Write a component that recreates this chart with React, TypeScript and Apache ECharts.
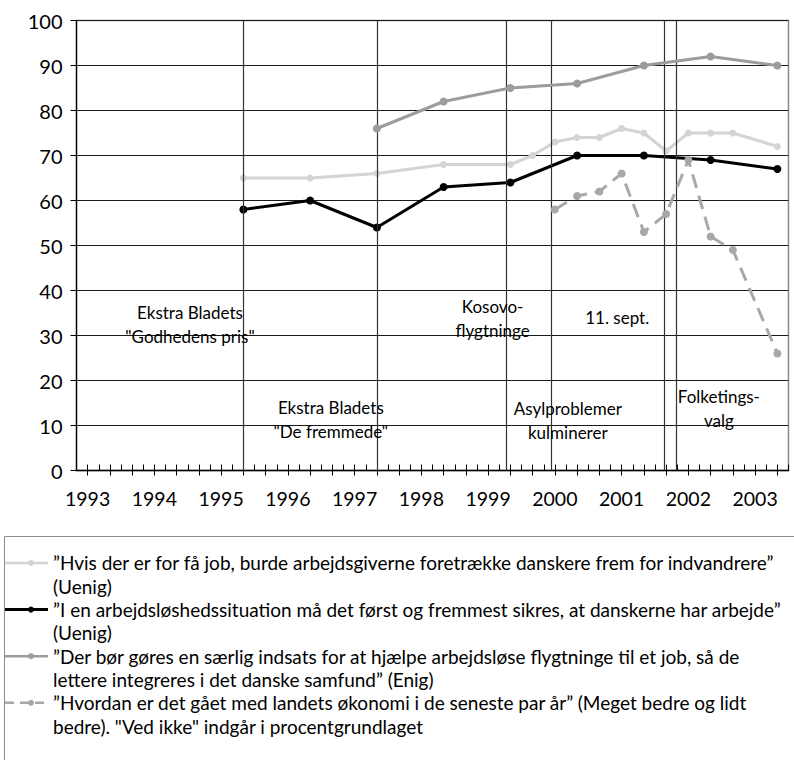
import React, { useEffect, useRef } from 'react';
import * as echarts from 'echarts';

// ---------- data ----------
const yearLabels = ['1993', '1994', '1995', '1996', '1997', '1998', '1999', '2000', '2001', '2002', '2003'];
const slotCount = 32; // survey slots on the x axis, three per year
const slotsPerYear = 3;

const seriesNames = [
  '”Hvis der er for få job, burde arbejdsgiverne foretrække danskere frem for indvandrere”\n(Uenig)',
  '”I en arbejdsløshedssituation må det først og fremmest sikres, at danskerne har arbejde”\n(Uenig)',
  '”Der bør gøres en særlig indsats for at hjælpe arbejdsløse flygtninge til et job, så de\nlettere integreres i det danske samfund” (Enig)',
  '”Hvordan er det gået med landets økonomi i de seneste par år” (Meget bedre og lidt\nbedre). "Ved ikke" indgår i procentgrundlaget',
];

const N = null;
const jobPreference = [N, N, N, N, N, N, N, 65, N, N, 65, N, N, 66, N, N, 68, N, N, 68, 70, 73, 74, 74, 76, 75, 71, 75, 75, 75, N, 72];
const danesFirst = [N, N, N, N, N, N, N, 58, N, N, 60, N, N, 54, N, N, 63, N, N, 64, N, N, 70, N, N, 70, N, N, 69, N, N, 67];
const refugeeEffort = [N, N, N, N, N, N, N, N, N, N, N, N, N, 76, N, N, 82, N, N, 85, N, N, 86, N, N, 90, N, N, 92, N, N, 90];
const economy = [N, N, N, N, N, N, N, N, N, N, N, N, N, N, N, N, N, N, N, N, N, 58, 61, 62, 66, 53, 57, 69, 52, 49, N, 26];

// event lines (x position in slot units)
const eventPositions = [7, 13, 18.8, 20.82, 25.9, 26.47];
// event annotations
const annotationTexts = [
  'Ekstra Bladets\n"Godhedens pris"',
  'Ekstra Bladets\n"De fremmede"',
  'Kosovo-\nflygtninge',
  '11. sept.',
  'Asylproblemer\nkulminerer',
  'Folketings-\nvalg',
];
const annotationX = [4.6, 10.93, 18.2, 23.8, 21.58, 28.37];
const annotationY = [32.5, 11.4, 33.7, 33.9, 11.2, 13.7];

const yTicks = { min: 0, max: 100, interval: 10 };

// ---------- styles ----------
const FONT = 'Lato';
const seriesStyles = [
  { color: '#d4d4d4', width: 3, type: 'solid' as const, size: 7 },
  { color: '#000000', width: 3, type: 'solid' as const, size: 8 },
  { color: '#9c9c9c', width: 3, type: 'solid' as const, size: 8 },
  { color: '#a8a8a8', width: 3, type: [14, 8] as any, size: 8 },
];

const toPairs = (arr: (number | null)[]) =>
  arr.map((v, i) => (v === null ? null : [i, v])).filter((p) => p !== null) as number[][];

export default function App() {
  const ref = useRef<HTMLDivElement>(null);

  useEffect(() => {
    if (!ref.current) return;
    const chart = echarts.init(ref.current, undefined, { renderer: 'svg' });

    const categories: string[] = [];
    for (let i = 0; i < slotCount; i++) categories.push('');
    yearLabels.forEach((y, k) => {
      categories[k * slotsPerYear] = y;
    });

    const allData = [jobPreference, danesFirst, refugeeEffort, economy];

    const lineSeries = allData.map((arr, i) => ({
      type: 'line',
      name: seriesNames[i],
      xAxisIndex: 0,
      yAxisIndex: 0,
      data: toPairs(arr),
      symbol: 'circle',
      symbolSize: seriesStyles[i].size,
      showSymbol: true,
      z: 3 + i,
      lineStyle: { color: seriesStyles[i].color, width: seriesStyles[i].width, type: seriesStyles[i].type },
      itemStyle: { color: seriesStyles[i].color },
      silent: true,
    }));

    // legend drawn as graphic elements
    const legendTop = 563;
    const itemStep = 46.6;
    const lineH = 23.4;
    const legendGraphics: any[] = [
      {
        type: 'rect',
        shape: { x: 4.5, y: 536.5, width: 900, height: 400 },
        style: { fill: 'none', stroke: '#8a8a8a', lineWidth: 1 },
        silent: true,
      },
    ];
    seriesNames.forEach((name, i) => {
      const cy = legendTop + i * itemStep;
      const s = seriesStyles[i];
      legendGraphics.push({
        type: 'line',
        shape: { x1: 5, y1: cy, x2: 48, y2: cy },
        style: { stroke: s.color, lineWidth: i === 1 ? 3 : 2.5, lineDash: i === 3 ? [9, 6] : null },
        silent: true,
      });
      legendGraphics.push({
        type: 'circle',
        shape: { cx: 31, cy, r: 3 },
        style: { fill: s.color },
        silent: true,
      });
      legendGraphics.push({
        type: 'text',
        x: 53,
        y: cy - lineH / 2,
        style: {
          text: name,
          fill: '#000',
          fontSize: 19,
          fontFamily: FONT,
          lineHeight: lineH,
          verticalAlign: 'top',
          align: 'left',
        },
        silent: true,
      });
    });

    chart.setOption({
      animation: false,
      textStyle: { fontFamily: FONT },
      grid: {
        left: 76.5,
        right: 5.5,
        top: 20.5,
        bottom: 289.5,
        show: true,
        borderColor: '#8a8a8a',
        borderWidth: 1.5,
        backgroundColor: 'transparent',
        containLabel: false,
      },
      xAxis: [
        {
          type: 'value',
          min: -0.5,
          max: 31.5,
          interval: 0.5,
          position: 'bottom',
          axisLine: { show: true, onZero: false, lineStyle: { color: '#000', width: 1.3 } },
          axisTick: { show: true, inside: true, length: 6, lineStyle: { color: '#000', width: 1 } },
          axisLabel: { show: false },
          splitLine: { show: false },
        },
        {
          type: 'category',
          data: categories,
          boundaryGap: true,
          position: 'bottom',
          axisLine: { show: false, onZero: false },
          axisTick: { show: true, alignWithLabel: true, interval: 0, inside: false, length: 5, lineStyle: { color: '#000', width: 1 } },
          axisLabel: { show: true, interval: 0, fontSize: 19.5, color: '#000', margin: 18, fontFamily: FONT },
          splitLine: { show: false },
        },
      ],
      yAxis: {
        type: 'value',
        min: yTicks.min,
        max: yTicks.max,
        interval: yTicks.interval,
        axisLine: { show: true, onZero: false, lineStyle: { color: '#000', width: 1.3 } },
        axisTick: { show: true, inside: false, length: 6, lineStyle: { color: '#000', width: 1 } },
        axisLabel: { fontSize: 20, color: '#000', margin: 14, fontFamily: FONT },
        splitLine: { show: true, lineStyle: { color: '#1a1a1a', width: 1 } },
      },
      series: [
        {
          type: 'line',
          name: 'events',
          xAxisIndex: 0,
          yAxisIndex: 0,
          data: [],
          z: 1,
          silent: true,
          markLine: {
            silent: true,
            symbol: ['none', 'none'],
            label: { show: false },
            lineStyle: { color: '#333', width: 1.2, type: 'solid' },
            data: eventPositions.map((x) => ({ xAxis: x })),
          },
          markPoint: {
            silent: true,
            symbol: 'rect',
            symbolSize: 1,
            itemStyle: { color: 'rgba(0,0,0,0)' },
            label: {
              show: true,
              position: 'inside',
              color: '#000',
              fontSize: 17,
              lineHeight: 24,
              fontFamily: FONT,
              align: 'center',
            },
            data: annotationTexts.map((t, i) => ({
              coord: [annotationX[i], annotationY[i]],
              value: t,
              label: { formatter: t },
            })),
          },
        },
        ...lineSeries,
      ],
      graphic: legendGraphics,
    });

    return () => chart.dispose();
  }, []);

  return <div ref={ref} style={{ position: 'fixed', left: 0, top: 0, width: 794, height: 760, background: '#fff' }} />;
}
